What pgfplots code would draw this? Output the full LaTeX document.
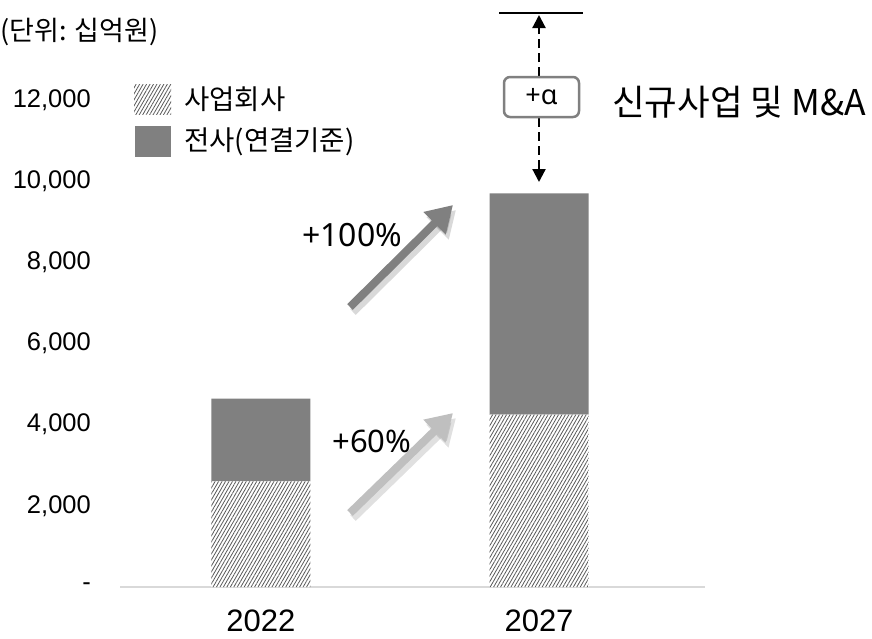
\documentclass[border=0pt]{standalone}
\usepackage{pgfplots}
\pgfplotsset{compat=1.18}
\usepackage{fontspec}
\setmainfont{Liberation Sans}
\newfontfamily\kr{Noto Sans CJK KR}
\newfontfamily\nsans{Noto Sans}
\usetikzlibrary{patterns.meta,arrows.meta}
\definecolor{bargray}{HTML}{808080}
\definecolor{lightarrow}{HTML}{BFBFBF}
\definecolor{axisgray}{HTML}{D9D9D9}
\definecolor{hatch}{HTML}{595959}
\begin{document}
\begin{tikzpicture}
\path[use as bounding box] (0pt,0pt) rectangle (872pt,-638pt);
\begin{axis}[
  at={(120pt,-587pt)}, anchor=south west,
  scale only axis, width=585pt, height=487pt,
  ybar stacked, bar width=99pt,
  xmin=-0.507, xmax=1.597, ymin=0, ymax=12000,
  scaled y ticks=false,
  clip=false,
  axis lines*=left,
  y axis line style={draw=none},
  x axis line style={axisgray, line width=1.5pt},
  major tick length=0pt, tick style={draw=none},
  xtick={0,1},
  xticklabels={2022,2027},
  xticklabel style={font=\fontsize{31}{31}\selectfont, anchor=north, inner sep=0pt, yshift=-23pt},
  ytick={0,2000,4000,6000,8000,10000,12000},
  yticklabels={-,{2,000},{4,000},{6,000},{8,000},{10,000},{12,000}},
  yticklabel style={font=\fontsize{25.5}{25.5}\selectfont, anchor=east, inner sep=0pt, xshift=-29pt},
]
\addplot[draw=none, fill=white, postaction={pattern={Lines[angle=60,distance=3pt,line width=0.8pt]}, pattern color=hatch}] coordinates {(0,2600) (1,4250)};
\addplot[draw=none, fill=bargray] coordinates {(0,2040) (1,5450)};
\end{axis}
\begin{scope}[x=1pt,y=-1pt]
% unit
\node[anchor=west, inner sep=0pt] at (0,32) {\kr\fontsize{27}{27}\selectfont (단위: 십억원)};
% legend
\fill[white] (134,84) rectangle (171,114);
\fill[pattern={Lines[angle=60,distance=3pt,line width=0.8pt]}, pattern color=hatch] (134,84) rectangle (171,114);
\fill[bargray] (135,126) rectangle (171,157);
\node[anchor=west, inner sep=0pt] at (184,99) {\kr\fontsize{27.5}{27.5}\selectfont 사업회사};
\node[anchor=west, inner sep=0pt] at (184,142) {\kr\fontsize{27.5}{27.5}\selectfont 전사(연결기준)};
% top line and dashed arrows
\draw[line width=1.6pt] (499,13) -- (583,13);
\draw[line width=2.2pt, dash pattern=on 9pt off 5pt, -{Triangle[length=13pt,width=13pt]}] (539,76) -- (539,15);
\draw[line width=2.2pt, dash pattern=on 9pt off 5pt, -{Triangle[length=13pt,width=13pt]}] (539,118) -- (539,182);
\node[draw=bargray, line width=2.5pt, rounded corners=6pt, fill=white, minimum width=75pt, minimum height=40pt, inner sep=0pt] at (541.5,97) {\nsans\fontsize{27}{27}\selectfont\bfseries +α};
\node[anchor=west, inner sep=0pt] at (612,102) {\kr\fontsize{35.5}{35.5}\selectfont 신규사업 및 M\&A};
% growth arrows
\draw[line width=8pt, black, opacity=0.15, -{Triangle[length=26pt,width=30pt]}] (353,312) -- (456,210);
\draw[line width=8pt, bargray, -{Triangle[length=26pt,width=30pt]}] (350,307) -- (453,205);
\draw[line width=8pt, black, opacity=0.12, -{Triangle[length=26pt,width=30pt]}] (353,518) -- (456,418);
\draw[line width=8pt, lightarrow, -{Triangle[length=26pt,width=30pt]}] (350,513) -- (453,413);
\node at (352,235) {\nsans\fontsize{32}{32}\selectfont +100\%};
\node at (372,441) {\nsans\fontsize{31}{31}\selectfont +60\%};
\end{scope}
\end{tikzpicture}
\end{document}
